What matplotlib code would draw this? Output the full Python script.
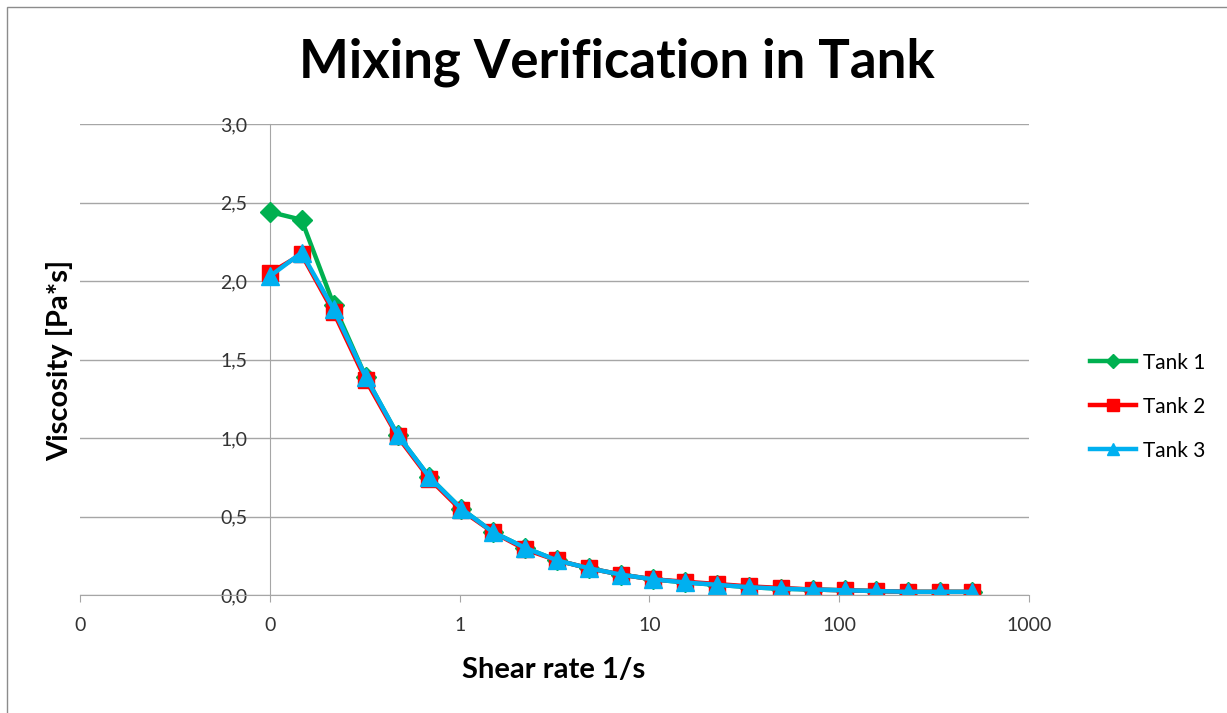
import matplotlib.pyplot as plt
import matplotlib.ticker as mticker
from matplotlib.patches import Rectangle

# Shear rate values (log spaced)
shear = [0.1, 0.147, 0.217, 0.320, 0.471, 0.694, 1.02, 1.50, 2.22, 3.27, 4.81, 7.08,
         10.4, 15.4, 22.6, 33.4, 49.1, 72.4, 107, 157, 231, 341, 500]

tank1 = [2.44, 2.39, 1.85, 1.39, 1.02, 0.75, 0.55, 0.40, 0.30, 0.22, 0.17, 0.13,
         0.10, 0.08, 0.065, 0.05, 0.04, 0.035, 0.03, 0.025, 0.02, 0.02, 0.02]
tank2 = [2.05, 2.17, 1.80, 1.37, 1.01, 0.74, 0.54, 0.40, 0.29, 0.22, 0.17, 0.13,
         0.10, 0.085, 0.07, 0.055, 0.045, 0.035, 0.03, 0.025, 0.02, 0.02, 0.02]
tank3 = [2.03, 2.18, 1.82, 1.39, 1.02, 0.75, 0.55, 0.40, 0.30, 0.22, 0.17, 0.13,
         0.10, 0.08, 0.065, 0.05, 0.04, 0.035, 0.03, 0.025, 0.02, 0.02, 0.02]

xticks = [0.01, 0.1, 1, 10, 100, 1000]
xticklabels = ['0', '0', '1', '10', '100', '1000']
yticks = [0.0, 0.5, 1.0, 1.5, 2.0, 2.5, 3.0]

font = 'Lato'
grid_col = '#a6a6a6'

fig = plt.figure(figsize=(12.27, 7.13), dpi=100)
fig.patches.append(Rectangle((0.006, -0.01), 1.2, 1.0, transform=fig.transFigure,
                             fill=False, edgecolor='#8c8c8c', linewidth=1.0))
ax = fig.add_axes([80 / 1227, 118 / 713, 949 / 1227, 471 / 713])

ax.plot(shear, tank1, color='#00b050', marker='D', markersize=10, linewidth=3.2, label='Tank 1')
ax.plot(shear, tank2, color='#ff0000', marker='s', markersize=12, linewidth=3.2, label='Tank 2')
ax.plot(shear, tank3, color='#00b0f0', marker='^', markersize=13, linewidth=3.2, label='Tank 3')

ax.set_xscale('log')
ax.set_xlim(0.01, 1000)
ax.set_ylim(0, 3.0)
ax.set_xticks(xticks)
ax.set_xticklabels(xticklabels)
ax.xaxis.set_minor_locator(mticker.NullLocator())
ax.set_yticks(yticks)
ax.set_yticklabels([('%.1f' % v).replace('.', ',') for v in yticks])

for s in ['top', 'right']:
    ax.spines[s].set_visible(False)
ax.spines['left'].set_position(('data', 0.1))
ax.spines['left'].set_color(grid_col)
ax.spines['bottom'].set_color(grid_col)
ax.spines['left'].set_zorder(0.5)
ax.yaxis.grid(True, color=grid_col, linewidth=1.0)
ax.set_axisbelow(True)

ax.tick_params(axis='y', length=0, pad=16, labelsize=14, labelcolor='#333333')
ax.tick_params(axis='x', direction='out', length=5, color=grid_col, pad=11,
               labelsize=14, labelcolor='#333333')
for lab in ax.get_xticklabels() + ax.get_yticklabels():
    lab.set_fontfamily(font)

fig.text(0.503, 0.913, 'Mixing Verification in Tank', ha='center', va='center',
         fontsize=38, fontweight='bold', family=font)
fig.text(0.451, 0.061, 'Shear rate 1/s', ha='center', va='center',
         fontsize=21, fontweight='bold', family=font)
fig.text(0.049, 0.495, 'Viscosity [Pa*s]', ha='center', va='center', rotation=90,
         fontsize=21, fontweight='bold', family=font)

leg = ax.legend(loc='center left', bbox_to_anchor=(1.045, 0.40), frameon=False,
                prop={'family': font, 'size': 15}, labelspacing=1.15,
                handlelength=2.2, handletextpad=0.3, markerscale=0.7)

fig.savefig('out.png', dpi=100)
